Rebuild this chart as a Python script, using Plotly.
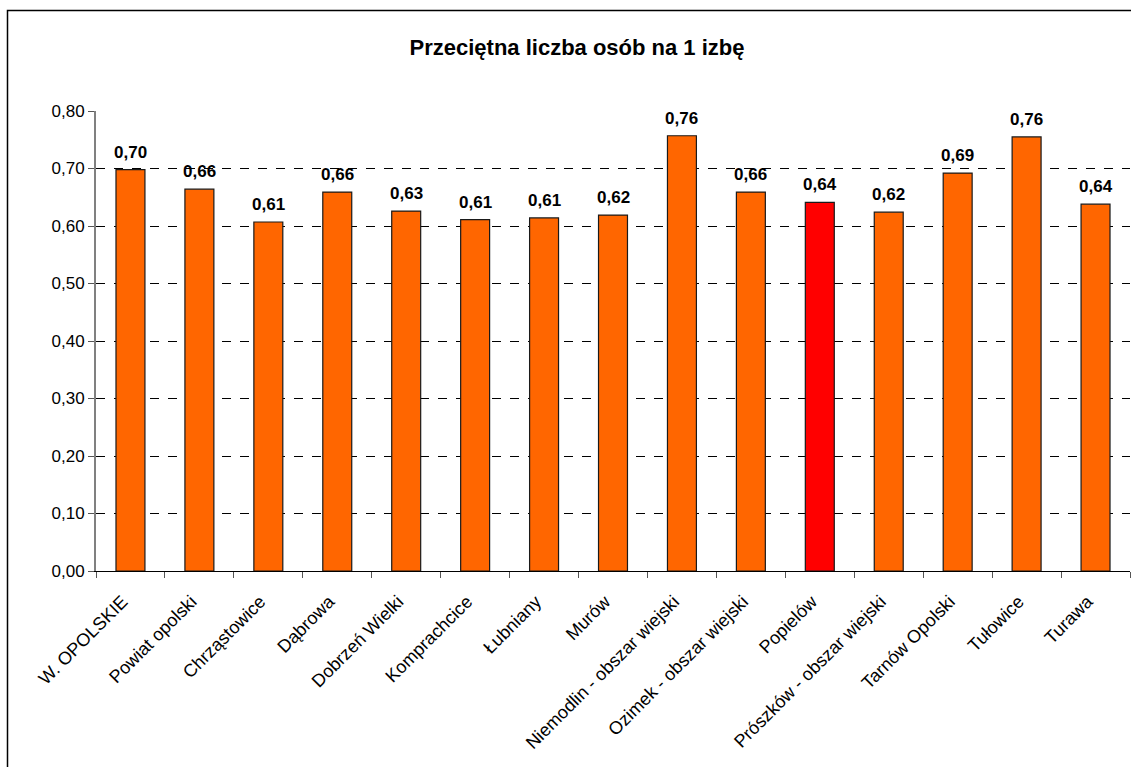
import plotly.graph_objects as go

categories = ["W. OPOLSKIE", "Powiat opolski", "Chrząstowice", "Dąbrowa", "Dobrzeń Wielki",
              "Komprachcice", "Łubniany", "Murów", "Niemodlin - obszar wiejski",
              "Ozimek - obszar wiejski", "Popielów", "Prószków - obszar wiejski",
              "Tarnów Opolski", "Tułowice", "Turawa"]
values = [0.698, 0.664, 0.607, 0.659, 0.626, 0.611, 0.614, 0.619, 0.757,
          0.659, 0.641, 0.624, 0.692, 0.755, 0.638]
highlight = "Popielów"
y_ticks = [0.0, 0.1, 0.2, 0.3, 0.4, 0.5, 0.6, 0.7, 0.8]

colors = ["#FF0000" if c == highlight else "#FF6600" for c in categories]

W, H = 1131, 767
L, R, T, B = 96, 1, 111, 196
FONT = "Liberation Sans, Arial, sans-serif"

fig = go.Figure(go.Bar(
    x=categories, y=values,
    marker=dict(color=colors, line=dict(color="#1a1a1a", width=1.2)),
    cliponaxis=False, width=0.42,
))

for c, v in zip(categories, values):
    fig.add_annotation(x=c, y=v, xref="x", yref="y", text=f"<b>{v:.2f}</b>".replace(".", ","),
                       showarrow=False, yanchor="bottom", yshift=6,
                       font=dict(family=FONT, size=17, color="black"))

fig.update_layout(
    width=W, height=H,
    margin=dict(l=L, r=R, t=T, b=B, autoexpand=False),
    paper_bgcolor="white", plot_bgcolor="white",
    separators=", ",
    font=dict(family=FONT, size=17, color="black"),
    title=dict(text="<b>Przeciętna liczba osób na 1 izbę</b>",
               x=577 / W, xanchor="center", y=1 - 47 / H, yanchor="middle",
               font=dict(size=22, family=FONT)),
    showlegend=False,
    xaxis=dict(tickangle=-45, tickson="boundaries", ticks="outside", ticklen=6,
               tickcolor="#555555", showline=True, linecolor="black", linewidth=1,
               tickfont=dict(size=18), ticklabelstandoff=12, ticklabelshift=-8,
               fixedrange=True),
    yaxis=dict(range=[0, 0.8], tickvals=y_ticks, tickformat=".2f", ticks="outside",
               ticklen=6, tickcolor="#555555", showline=True, linecolor="#808080",
               linewidth=2, showgrid=True, gridcolor="black", gridwidth=1,
               griddash="dash", zeroline=False, tickfont=dict(size=17)),
    shapes=[dict(type="rect", xref="paper", yref="paper",
                 x0=-(L - 7.5) / (W - L - R), x1=(W - L + 20) / (W - L - R),
                 y0=-(B + 20) / (H - T - B), y1=1 + (T - 10.5) / (H - T - B),
                 line=dict(color="black", width=1.5), fillcolor="rgba(0,0,0,0)")],
)

fig.write_html("out.html", config={"displayModeBar": False},
               post_script="document.body.style.margin='0';document.body.style.overflow='hidden';")
